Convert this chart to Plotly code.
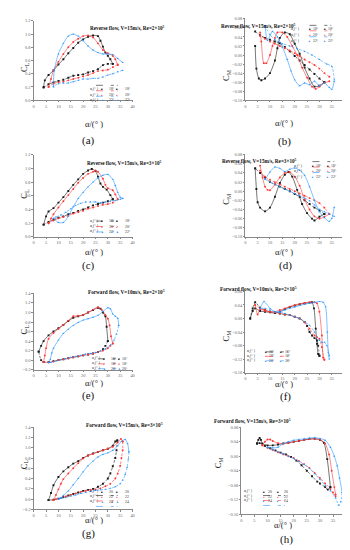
import plotly.graph_objects as go

# ---------------- DATA ----------------
TITLES = ["Reverse flow, V=15m/s, Re=2×10<sup>5</sup>", "Reverse flow, V=15m/s, Re=2×10<sup>5</sup>",
          "Reverse flow, V=15m/s, Re=3×10<sup>5</sup>", "Reverse flow, V=15m/s, Re=3×10<sup>5</sup>",
          "Forward flow, V=10m/s, Re=2×10<sup>5</sup>", "Forward flow, V=10m/s, Re=2×10<sup>5</sup>",
          "Forward flow, V=15m/s, Re=3×10<sup>5</sup>", "Forward flow, V=15m/s, Re=3×10<sup>5</sup>"]
PANEL_LABELS = ["(a)", "(b)", "(c)", "(d)", "(e)", "(f)", "(g)", "(h)"]
LEG_AB = ["18°", "20°", "22°"]
LEG_EF = ["16°", "18°", "20°"]
LEG_GH = ["20", "22", "24"]
X_TICKS = [0, 5, 10, 15, 20, 25, 30, 35, 40]

# (a) CL reverse Re=2e5
A_K_UP_X = [4, 4.5, 6, 8, 10, 12, 14, 16, 18, 20, 22, 24, 26, 27, 28, 29, 30, 31, 32]
A_K_UP_Y = [0.20, 0.30, 0.38, 0.45, 0.54, 0.62, 0.71, 0.79, 0.87, 0.92, 0.96, 0.98, 0.97, 0.90, 0.81, 0.72, 0.67, 0.62, 0.55]
A_K_DN_X = [32, 30, 28, 26, 24, 22, 20, 18, 16, 14, 12, 10, 8, 6, 4]
A_K_DN_Y = [0.55, 0.55, 0.53, 0.47, 0.44, 0.42, 0.39, 0.38, 0.37, 0.34, 0.31, 0.29, 0.27, 0.24, 0.19]
A_R_UP_X = [6, 7, 8, 10, 12, 14, 16, 18, 20, 22, 24, 26, 28, 30, 32, 33, 34]
A_R_UP_Y = [0.20, 0.32, 0.45, 0.58, 0.70, 0.80, 0.88, 0.93, 0.97, 0.98, 0.95, 0.86, 0.76, 0.71, 0.67, 0.62, 0.53]
A_R_DN_X = [34, 32, 30, 28, 26, 24, 22, 20, 18, 16, 14, 12, 10, 8, 6]
A_R_DN_Y = [0.54, 0.50, 0.46, 0.45, 0.44, 0.41, 0.38, 0.36, 0.34, 0.32, 0.30, 0.28, 0.27, 0.25, 0.20]
A_B_UP_X = [8, 8.3, 10, 12, 14, 16, 18, 20, 22, 24, 26, 28, 30, 32, 34, 36]
A_B_UP_Y = [0.20, 0.45, 0.70, 0.86, 0.97, 1.00, 0.97, 0.90, 0.82, 0.76, 0.72, 0.70, 0.70, 0.69, 0.63, 0.57]
A_B_DN_X = [36, 34, 32, 30, 28, 26, 24, 22, 20, 18, 16, 14, 12, 10, 8]
A_B_DN_Y = [0.45, 0.43, 0.40, 0.38, 0.35, 0.33, 0.33, 0.32, 0.32, 0.30, 0.28, 0.26, 0.26, 0.25, 0.21]

# (b) CM reverse Re=2e5
B_K_UP_X = [4, 4.5, 5.5, 6.5, 8, 10, 12, 13, 14, 16, 18, 20, 22, 24, 26, 28, 30, 32]
B_K_UP_Y = [0.020, -0.030, -0.052, -0.056, -0.052, -0.040, -0.012, 0.015, 0.038, 0.050, 0.046, 0.025, 0.003, -0.028, -0.052, -0.070, -0.068, -0.060]
B_K_DN_X = [32, 30, 28, 26, 24, 22, 20, 18, 16, 14, 12, 10, 8, 6, 4]
B_K_DN_Y = [-0.060, -0.052, -0.042, -0.032, -0.022, -0.012, -0.002, 0.008, 0.018, 0.026, 0.030, 0.034, 0.038, 0.044, 0.052]
B_R_UP_X = [6, 6.5, 7.5, 8.5, 10, 11, 12, 13, 15, 17, 19, 21, 23, 25, 27, 28.5, 30, 32, 34]
B_R_UP_Y = [0.050, 0.030, -0.018, -0.018, 0.000, 0.020, 0.038, 0.050, 0.050, 0.040, 0.020, 0.000, -0.028, -0.050, -0.070, -0.075, -0.070, -0.062, -0.058]
B_R_DN_X = [34, 32, 30, 28, 26, 24, 22, 20, 18, 16, 14, 12, 10, 8, 6]
B_R_DN_Y = [-0.048, -0.040, -0.030, -0.022, -0.016, -0.010, -0.002, 0.004, 0.010, 0.015, 0.020, 0.025, 0.030, 0.036, 0.042]
B_B_UP_X = [8, 9, 11, 13, 15, 17, 18.5, 20, 22, 24, 26, 28, 30, 32, 34, 35, 36]
B_B_UP_Y = [0.065, 0.032, 0.052, 0.040, 0.018, -0.010, -0.035, -0.055, -0.068, -0.062, -0.066, -0.058, -0.068, -0.062, -0.072, -0.076, -0.058]
B_B_DN_X = [36, 35, 33, 30, 27, 24, 21, 18, 15, 12, 10, 8]
B_B_DN_Y = [-0.055, -0.025, -0.020, -0.010, 0.000, 0.008, 0.014, 0.020, 0.025, 0.034, 0.045, 0.065]

# (c) CL reverse Re=3e5
C_K_UP_X = [4, 5, 6, 8, 10, 12, 14, 16, 18, 20, 22, 23.5, 25, 26, 27, 28, 29.5, 31, 32]
C_K_UP_Y = [0.18, 0.30, 0.37, 0.42, 0.50, 0.58, 0.67, 0.76, 0.84, 0.92, 0.97, 0.99, 0.96, 0.88, 0.78, 0.73, 0.69, 0.61, 0.55]
C_K_DN_X = [32, 30, 28, 26, 24, 22, 20, 18, 16, 14, 12, 10, 8, 6, 4]
C_K_DN_Y = [0.55, 0.52, 0.50, 0.48, 0.46, 0.43, 0.40, 0.38, 0.35, 0.33, 0.30, 0.28, 0.25, 0.22, 0.18]
C_R_UP_X = [6, 7, 8, 10, 12, 14, 16, 18, 20, 22, 24, 25, 26, 28, 29, 30, 32, 33, 34]
C_R_UP_Y = [0.20, 0.27, 0.33, 0.43, 0.52, 0.61, 0.70, 0.79, 0.86, 0.92, 0.95, 0.97, 0.95, 0.85, 0.76, 0.71, 0.68, 0.62, 0.55]
C_R_DN_X = [34, 32, 30, 28, 26, 24, 22, 20, 18, 16, 14, 12, 10, 8, 6]
C_R_DN_Y = [0.55, 0.50, 0.48, 0.47, 0.45, 0.43, 0.41, 0.38, 0.36, 0.34, 0.31, 0.29, 0.27, 0.24, 0.20]
C_B_UP_X = [8, 10, 12, 14, 16, 18, 20, 22, 24, 26, 28, 30, 32, 33, 34, 35, 36]
C_B_UP_Y = [0.27, 0.21, 0.21, 0.30, 0.44, 0.56, 0.65, 0.73, 0.80, 0.86, 0.90, 0.91, 0.84, 0.75, 0.65, 0.58, 0.56]
C_B_DN_X = [36, 35, 33, 31, 29, 27, 25, 23, 21, 19, 17, 15, 13, 11, 9, 8]
C_B_DN_Y = [0.56, 0.55, 0.53, 0.52, 0.51, 0.50, 0.51, 0.51, 0.51, 0.49, 0.46, 0.41, 0.36, 0.32, 0.29, 0.27]

# (d) CM reverse Re=3e5
D_K_UP_X = [4, 4.5, 5, 6, 8, 10, 12, 14, 16, 17.5, 19, 21, 23, 25, 27, 28, 30, 32]
D_K_UP_Y = [0.050, 0.005, -0.024, -0.036, -0.044, -0.036, -0.012, 0.018, 0.036, 0.042, 0.032, 0.003, -0.028, -0.048, -0.060, -0.064, -0.056, -0.050]
D_K_DN_X = [32, 30, 28, 26, 24, 22, 20, 18, 16, 14, 12, 10, 8, 6, 4]
D_K_DN_Y = [-0.050, -0.042, -0.036, -0.028, -0.020, -0.012, -0.006, 0.000, 0.005, 0.010, 0.015, 0.020, 0.030, 0.040, 0.050]
D_R_UP_X = [6, 7, 8, 9, 10, 12, 14, 16, 18, 20, 22, 24, 26, 28, 30, 32, 34]
D_R_UP_Y = [0.056, 0.030, 0.010, 0.003, 0.002, 0.015, 0.030, 0.040, 0.042, 0.032, 0.012, -0.018, -0.040, -0.055, -0.060, -0.056, -0.050]
D_R_DN_X = [34, 32, 30, 28, 26, 24, 22, 20, 18, 16, 14, 12, 10, 8, 6]
D_R_DN_Y = [-0.050, -0.036, -0.026, -0.020, -0.015, -0.010, -0.005, 0.000, 0.005, 0.010, 0.015, 0.020, 0.025, 0.032, 0.045]
D_B_UP_X = [8, 10, 12, 14, 16, 18, 20, 22, 24, 26, 28, 30, 32, 34, 35, 36]
D_B_UP_Y = [0.026, 0.042, 0.053, 0.050, 0.043, 0.048, 0.051, 0.046, 0.035, 0.010, -0.020, -0.045, -0.058, -0.066, -0.060, -0.035]
D_B_DN_X = [36, 34, 32, 30, 28, 26, 24, 22, 20, 18, 16, 14, 12, 10, 8]
D_B_DN_Y = [-0.055, -0.050, -0.045, -0.040, -0.030, -0.021, -0.015, -0.010, -0.005, 0.000, 0.005, 0.010, 0.015, 0.020, 0.026]

# (e) CL forward V=10
E_K_UP_X = [2, 3, 4, 6, 8, 10, 12, 14, 16, 18, 20, 22, 24, 26, 27, 28, 29, 29.5, 30]
E_K_UP_Y = [0.18, 0.30, 0.40, 0.52, 0.60, 0.67, 0.74, 0.82, 0.89, 0.92, 0.95, 1.00, 1.05, 1.10, 1.08, 1.00, 0.92, 0.70, 0.40]
E_K_DN_X = [30, 29, 28, 26, 24, 22, 20, 18, 16, 14, 12, 10, 8, 6, 4, 3, 2]
E_K_DN_Y = [0.40, 0.30, 0.23, 0.17, 0.14, 0.12, 0.10, 0.08, 0.06, 0.04, 0.02, 0.00, -0.02, -0.04, -0.04, 0.00, 0.18]
E_R_UP_X = [4, 4.5, 5, 6, 8, 10, 12, 14, 16, 18, 20, 22, 24, 26, 27.5, 29, 30, 30.7, 31.3, 32]
E_R_UP_Y = [-0.04, 0.10, 0.25, 0.45, 0.57, 0.66, 0.74, 0.83, 0.92, 0.93, 0.95, 1.00, 1.06, 1.11, 1.06, 0.95, 0.87, 0.73, 0.50, 0.35]
E_R_DN_X = [32, 31, 30, 28, 26, 24, 22, 20, 18, 16, 14, 12, 10, 8, 6, 4]
E_R_DN_Y = [0.35, 0.30, 0.25, 0.20, 0.17, 0.14, 0.12, 0.10, 0.08, 0.06, 0.04, 0.02, 0.00, -0.03, -0.05, -0.04]
E_B_UP_X = [6, 6.7, 7.3, 8, 10, 12, 14, 16, 18, 20, 22, 24, 26, 28, 30, 31, 32, 33, 34, 34.4]
E_B_UP_Y = [-0.05, 0.02, 0.15, 0.25, 0.42, 0.56, 0.65, 0.73, 0.79, 0.84, 0.87, 0.90, 0.94, 1.02, 1.10, 1.08, 0.97, 0.92, 0.88, 0.73]
E_B_DN_X = [34.4, 33.5, 32.5, 31, 29, 27, 25, 23, 21, 19, 17, 15, 13, 11, 9, 7, 6]
E_B_DN_Y = [0.73, 0.55, 0.42, 0.32, 0.24, 0.19, 0.16, 0.14, 0.13, 0.10, 0.08, 0.06, 0.03, 0.01, -0.02, -0.05, -0.05]

# (f) CM forward V=10
F_K_UP_X = [2, 3, 4, 6, 8, 10, 12, 14, 16, 18, 20, 22, 24, 26, 27, 27.8, 28.5, 29, 29.5, 30]
F_K_UP_Y = [0.000, 0.022, 0.030, 0.022, 0.020, 0.018, 0.016, 0.020, 0.028, 0.034, 0.038, 0.042, 0.045, 0.047, 0.048, 0.030, -0.030, -0.075, -0.105, -0.110]
F_K_DN_X = [30, 29.5, 29, 28, 27, 26, 25, 24, 22, 20, 18, 16, 14, 12, 10, 8, 6, 4, 3, 2]
F_K_DN_Y = [-0.110, -0.080, -0.065, -0.058, -0.050, -0.040, -0.022, -0.010, 0.000, 0.005, 0.010, 0.012, 0.015, 0.018, 0.020, 0.025, 0.032, 0.048, 0.030, 0.000]
F_R_UP_X = [4, 5, 6, 8, 10, 12, 14, 16, 18, 20, 22, 24, 26, 28, 29, 30, 31, 31.5, 32]
F_R_UP_Y = [0.040, 0.012, 0.028, 0.022, 0.020, 0.020, 0.025, 0.030, 0.035, 0.040, 0.043, 0.046, 0.048, 0.048, 0.045, 0.020, -0.050, -0.115, -0.122]
F_R_DN_X = [32, 31, 30, 29, 28, 26, 24, 22, 20, 18, 16, 14, 12, 10, 8, 6, 4]
F_R_DN_Y = [-0.122, -0.085, -0.060, -0.055, -0.050, -0.030, -0.012, 0.000, 0.005, 0.010, 0.012, 0.015, 0.018, 0.020, 0.025, 0.030, 0.040]
F_B_UP_X = [6, 7.6, 10, 12, 14, 16, 18, 20, 22, 24, 26, 28, 30, 31.5, 32.5, 33.2, 33.6, 34]
F_B_UP_Y = [0.030, 0.050, 0.030, 0.020, 0.020, 0.025, 0.030, 0.034, 0.038, 0.042, 0.045, 0.048, 0.050, 0.048, 0.035, -0.040, -0.100, -0.120]
F_B_DN_X = [34, 33, 32, 31, 30, 28, 26, 24, 22, 20, 18, 16, 14, 12, 10, 8, 6]
F_B_DN_Y = [-0.110, -0.080, -0.070, -0.070, -0.065, -0.040, -0.020, -0.010, 0.000, 0.005, 0.010, 0.015, 0.018, 0.020, 0.025, 0.030, 0.030]

# (g) CL forward V=15
G_K_UP_X = [6, 7, 8, 10, 12, 14, 16, 18, 20, 22, 24, 26, 28, 30, 32, 33, 33.8]
G_K_UP_Y = [-0.02, 0.12, 0.27, 0.43, 0.54, 0.62, 0.69, 0.74, 0.80, 0.85, 0.89, 0.92, 0.95, 0.98, 1.04, 1.12, 1.14]
G_K_DN_X = [33.8, 33.5, 33, 32, 31, 30, 28, 26, 24, 22, 20, 18, 16, 14, 12, 10, 8, 6]
G_K_DN_Y = [1.14, 0.95, 0.80, 0.64, 0.50, 0.40, 0.30, 0.24, 0.20, 0.18, 0.16, 0.13, 0.10, 0.07, 0.04, 0.01, -0.01, -0.02]
G_R_UP_X = [8, 9, 10, 11, 12, 14, 16, 18, 20, 22, 24, 26, 28, 30, 32, 34, 35.3, 36]
G_R_UP_Y = [-0.02, 0.08, 0.19, 0.30, 0.39, 0.50, 0.60, 0.70, 0.79, 0.85, 0.88, 0.92, 0.95, 0.98, 1.02, 1.10, 1.17, 1.12]
G_R_DN_X = [36, 36, 35.5, 35, 34, 33, 31, 29, 27, 25, 23, 21, 19, 17, 15, 13, 11, 9, 8]
G_R_DN_Y = [1.12, 0.95, 0.80, 0.65, 0.50, 0.40, 0.30, 0.25, 0.21, 0.19, 0.18, 0.16, 0.14, 0.11, 0.08, 0.05, 0.02, 0.00, -0.02]
G_B_UP_X = [10, 11, 12, 14, 16, 18, 20, 22, 24, 26, 28, 30, 32, 34, 35.5, 37, 38, 38.5]
G_B_UP_Y = [0.00, 0.03, 0.07, 0.16, 0.28, 0.40, 0.53, 0.65, 0.74, 0.82, 0.87, 0.90, 0.95, 1.04, 1.12, 1.16, 1.08, 0.92]
G_B_DN_X = [38.5, 38.3, 37.8, 37, 36, 35, 33, 31, 29, 27, 25, 23, 21, 19, 17, 15, 13, 11, 10]
G_B_DN_Y = [0.92, 0.78, 0.62, 0.48, 0.37, 0.30, 0.24, 0.21, 0.19, 0.18, 0.17, 0.15, 0.13, 0.11, 0.08, 0.06, 0.03, 0.01, 0.00]

# (h) CM forward V=15
H_K_UP_X = [6, 6.5, 7, 7.5, 8, 10, 12, 14, 16, 18, 20, 22, 24, 26, 28, 30, 31.5, 32.8, 34]
H_K_UP_Y = [0.035, 0.045, 0.050, 0.045, 0.035, 0.030, 0.030, 0.032, 0.035, 0.037, 0.040, 0.042, 0.045, 0.047, 0.048, 0.045, 0.037, -0.008, -0.085]
H_K_DN_X = [34, 33, 32, 30, 29, 27, 25, 23, 21, 19, 17, 15, 13, 11, 9, 7, 6]
H_K_DN_Y = [-0.085, -0.092, -0.085, -0.075, -0.070, -0.055, -0.040, -0.025, -0.012, -0.002, 0.005, 0.010, 0.016, 0.022, 0.028, 0.036, 0.035]
H_R_UP_X = [8, 9, 10, 11, 12, 14, 16, 18, 20, 22, 24, 26, 28, 30, 32, 33.5, 34.5, 35.5, 36]
H_R_UP_Y = [0.030, 0.040, 0.046, 0.046, 0.042, 0.036, 0.035, 0.037, 0.040, 0.042, 0.045, 0.047, 0.048, 0.046, 0.035, 0.005, -0.040, -0.085, -0.105]
H_R_DN_X = [36, 35, 34, 32, 30, 28, 26, 24, 22, 20, 18, 16, 14, 12, 10, 8]
H_R_DN_Y = [-0.110, -0.100, -0.090, -0.075, -0.060, -0.046, -0.032, -0.022, -0.013, -0.005, 0.000, 0.005, 0.011, 0.017, 0.023, 0.030]
H_B_UP_X = [10, 12, 14, 16, 18, 20, 22, 24, 26, 28, 30, 32, 34, 35.5, 36.6, 37.5, 38.5]
H_B_UP_Y = [0.025, 0.023, 0.025, 0.035, 0.040, 0.044, 0.046, 0.048, 0.050, 0.051, 0.049, 0.044, 0.025, 0.000, -0.026, -0.060, -0.100]
H_B_DN_X = [38.5, 38, 37.2, 36, 34, 32, 30, 28, 26, 24, 22, 20, 18, 16, 14, 12, 10]
H_B_DN_Y = [-0.100, -0.125, -0.135, -0.115, -0.095, -0.080, -0.064, -0.048, -0.034, -0.023, -0.014, -0.006, 0.000, 0.006, 0.012, 0.018, 0.025]

# ---------------- STYLE / LAYOUT ----------------
W, H = 350, 550
SERIF = "Liberation Serif, Times New Roman, serif"
COLORS = ["#1a1a1a", "#ff3535", "#2a96ff"]
SYMBOLS = ["square", "circle", "triangle-up"]
GLYPHS = ["■", "●", "▲"]


def px(x):
    return x / W


def py(y):
    return 1 - y / H


panels = [
    dict(c=[(A_K_UP_X, A_K_UP_Y, A_K_DN_X, A_K_DN_Y), (A_R_UP_X, A_R_UP_Y, A_R_DN_X, A_R_DN_Y), (A_B_UP_X, A_B_UP_Y, A_B_DN_X, A_B_DN_Y)],
         xd=(25, 125), yd=(11, 91), yr=(0, 1.2), dt=0.2, fmt=".1f", yl="C<sub>L</sub>", tx=80, ty=13,
         leg=LEG_AB, lx=80, ly=(76, 81.5, 87), labx=72, laby=123, axy=108, ylx=8, yly=50),
    dict(c=[(B_K_UP_X, B_K_UP_Y, B_K_DN_X, B_K_DN_Y), (B_R_UP_X, B_R_UP_Y, B_R_DN_X, B_R_DN_Y), (B_B_UP_X, B_B_UP_Y, B_B_DN_X, B_B_DN_Y)],
         xd=(239, 339), yd=(9, 91), yr=(-0.10, 0.08), dt=0.02, fmt=".2f", yl="C<sub>M</sub>", tx=292, ty=11,
         leg=LEG_AB, lx=296, ly=(15.5, 21, 27), labx=287, laby=124, axy=107, ylx=220, yly=57),
    dict(c=[(C_K_UP_X, C_K_UP_Y, C_K_DN_X, C_K_DN_Y), (C_R_UP_X, C_R_UP_Y, C_R_DN_X, C_R_DN_Y), (C_B_UP_X, C_B_UP_Y, C_B_DN_X, C_B_DN_Y)],
         xd=(25, 125), yd=(146, 229), yr=(0, 1.2), dt=0.2, fmt=".1f", yl="C<sub>L</sub>", tx=77, ty=149,
         leg=LEG_AB, lx=80, ly=(213, 218.5, 224), labx=72, laby=258, axy=244, ylx=8, yly=185),
    dict(c=[(D_K_UP_X, D_K_UP_Y, D_K_DN_X, D_K_DN_Y), (D_R_UP_X, D_R_UP_Y, D_R_DN_X, D_R_DN_Y), (D_B_UP_X, D_B_UP_Y, D_B_DN_X, D_B_DN_Y)],
         xd=(239, 339), yd=(146, 229), yr=(-0.10, 0.08), dt=0.02, fmt=".2f", yl="C<sub>M</sub>", tx=293, ty=147,
         leg=LEG_AB, lx=299, ly=(153, 158.5, 164), labx=288, laby=258, axy=244, ylx=220, yly=190),
    dict(c=[(E_K_UP_X, E_K_UP_Y, E_K_DN_X, E_K_DN_Y), (E_R_UP_X, E_R_UP_Y, E_R_DN_X, E_R_DN_Y), (E_B_UP_X, E_B_UP_Y, E_B_DN_X, E_B_DN_Y)],
         xd=(25, 125), yd=(286, 363), yr=(-0.2, 1.4), dt=0.2, fmt=".1f", yl="C<sub>L</sub>", tx=78, ty=285,
         leg=LEG_EF, lx=82, ly=(352, 357, 362), labx=72, laby=398, axy=383, ylx=8, yly=322),
    dict(c=[(F_K_UP_X, F_K_UP_Y, F_K_DN_X, F_K_DN_Y), (F_R_UP_X, F_R_UP_Y, F_R_DN_X, F_R_DN_Y), (F_B_UP_X, F_B_UP_Y, F_B_DN_X, F_B_DN_Y)],
         xd=(239, 339), yd=(284, 366), yr=(-0.16, 0.08), dt=0.04, fmt=".2f", yl="C<sub>M</sub>", tx=293, ty=282,
         leg=LEG_EF, lx=252, ly=(345, 349.5, 354), labx=287, laby=399, axy=384, ylx=220, yly=328),
    dict(c=[(G_K_UP_X, G_K_UP_Y, G_K_DN_X, G_K_DN_Y), (G_R_UP_X, G_R_UP_Y, G_R_DN_X, G_R_DN_Y), (G_B_UP_X, G_B_UP_Y, G_B_DN_X, G_B_DN_Y)],
         xd=(25, 125), yd=(421, 504), yr=(-0.2, 1.4), dt=0.2, fmt=".1f", yl="C<sub>L</sub>", tx=76, ty=424,
         leg=LEG_GH, lx=80, ly=(490, 495.5, 501), labx=72, laby=537, axy=521.5, ylx=8, yly=465),
    dict(c=[(H_K_UP_X, H_K_UP_Y, H_K_DN_X, H_K_DN_Y), (H_R_UP_X, H_R_UP_Y, H_R_DN_X, H_R_DN_Y), (H_B_UP_X, H_B_UP_Y, H_B_DN_X, H_B_DN_Y)],
         xd=(235, 341), yd=(421, 509), yr=(-0.16, 0.08), dt=0.04, fmt=".2f", yl="C<sub>M</sub>", tx=287, ty=420,
         leg=LEG_GH, lx=249, ly=(490, 495, 500), labx=289, laby=543, axy=526.5, ylx=212, yly=465),
]

fig = go.Figure()
annotations = []
shapes = []
layout = {}

for i, p in enumerate(panels):
    n = "" if i == 0 else str(i + 1)
    xa, ya = "x" + n, "y" + n
    for j, (ux, uy, dx, dy) in enumerate(p["c"]):
        for xs, ys, dash in ((ux, uy, "solid"), (dx, dy, "2.5px,1.5px")):
            fig.add_trace(go.Scatter(
                x=xs, y=ys, xaxis=xa, yaxis=ya, mode="lines+markers", showlegend=False,
                line=dict(color=COLORS[j], width=0.6, dash=dash, shape="spline", smoothing=0.7),
                marker=dict(symbol=SYMBOLS[j], size=1.9, color=COLORS[j]),
                hoverinfo="skip"))
    axis_common = dict(showgrid=False, zeroline=False, showline=True, linecolor="#888", linewidth=0.5,
                       ticks="outside", ticklen=1.5, tickwidth=0.5, tickcolor="#888",
                       tickfont=dict(family=SERIF, size=4.4, color="#666"))
    layout["xaxis" + n] = dict(domain=[px(p["xd"][0]), px(p["xd"][1])], range=[0, 40], anchor=ya,
                               tickmode="array", tickvals=X_TICKS, ticktext=[str(v) for v in X_TICKS], **axis_common)
    layout["yaxis" + n] = dict(domain=[py(p["yd"][1]), py(p["yd"][0])], range=list(p["yr"]), anchor=xa,
                               tick0=p["yr"][0], dtick=p["dt"], tickformat=p["fmt"], **axis_common)
    annotations.append(dict(x=px(p["tx"]), y=py(p["ty"]), xref="paper", yref="paper", showarrow=False,
                            text="<b>" + TITLES[i] + "</b>", font=dict(family=SERIF, size=5.2, color="#111")))
    annotations.append(dict(x=px((p["xd"][0] + p["xd"][1]) / 2), y=py(p["axy"]), xref="paper", yref="paper",
                            showarrow=False, text="α/(°&nbsp;)", font=dict(family=SERIF, size=8.5, color="#222")))
    annotations.append(dict(x=px(p["ylx"]), y=py(p["yly"]), xref="paper", yref="paper", showarrow=False,
                            text=p["yl"], textangle=-90, font=dict(family=SERIF, size=8.5, color="#222")))
    annotations.append(dict(x=px(p["labx"]), y=py(p["laby"]), xref="paper", yref="paper", showarrow=False,
                            text=PANEL_LABELS[i], font=dict(family=SERIF, size=11, color="#111")))
    for j in range(3):
        yy = py(p["ly"][j])
        lx = p["lx"]
        annotations.append(dict(x=px(lx), y=yy, xref="paper", yref="paper", showarrow=False,
                                text="α<sub>s</sub>(°&nbsp;)", font=dict(family=SERIF, size=3.8, color="#333")))
        for (a, b, dash, tx) in ((lx + 8, lx + 15, "solid", lx + 19.5), (lx + 23, lx + 30, "dot", lx + 35)):
            shapes.append(dict(type="line", xref="paper", yref="paper", x0=px(a), x1=px(b), y0=yy, y1=yy,
                               line=dict(color=COLORS[j], width=0.6, dash=dash)))
            annotations.append(dict(x=px((a + b) / 2), y=yy, xref="paper", yref="paper", showarrow=False,
                                    text=GLYPHS[j], font=dict(size=2.8, color=COLORS[j])))
            annotations.append(dict(x=px(tx), y=yy, xref="paper", yref="paper", showarrow=False,
                                    text=p["leg"][j], font=dict(family=SERIF, size=3.8, color="#333")))

fig.update_layout(width=W, height=H, margin=dict(l=0, r=0, t=0, b=0), paper_bgcolor="white",
                  plot_bgcolor="white", showlegend=False, annotations=annotations, shapes=shapes, **layout)

fig.write_html("out.html")
